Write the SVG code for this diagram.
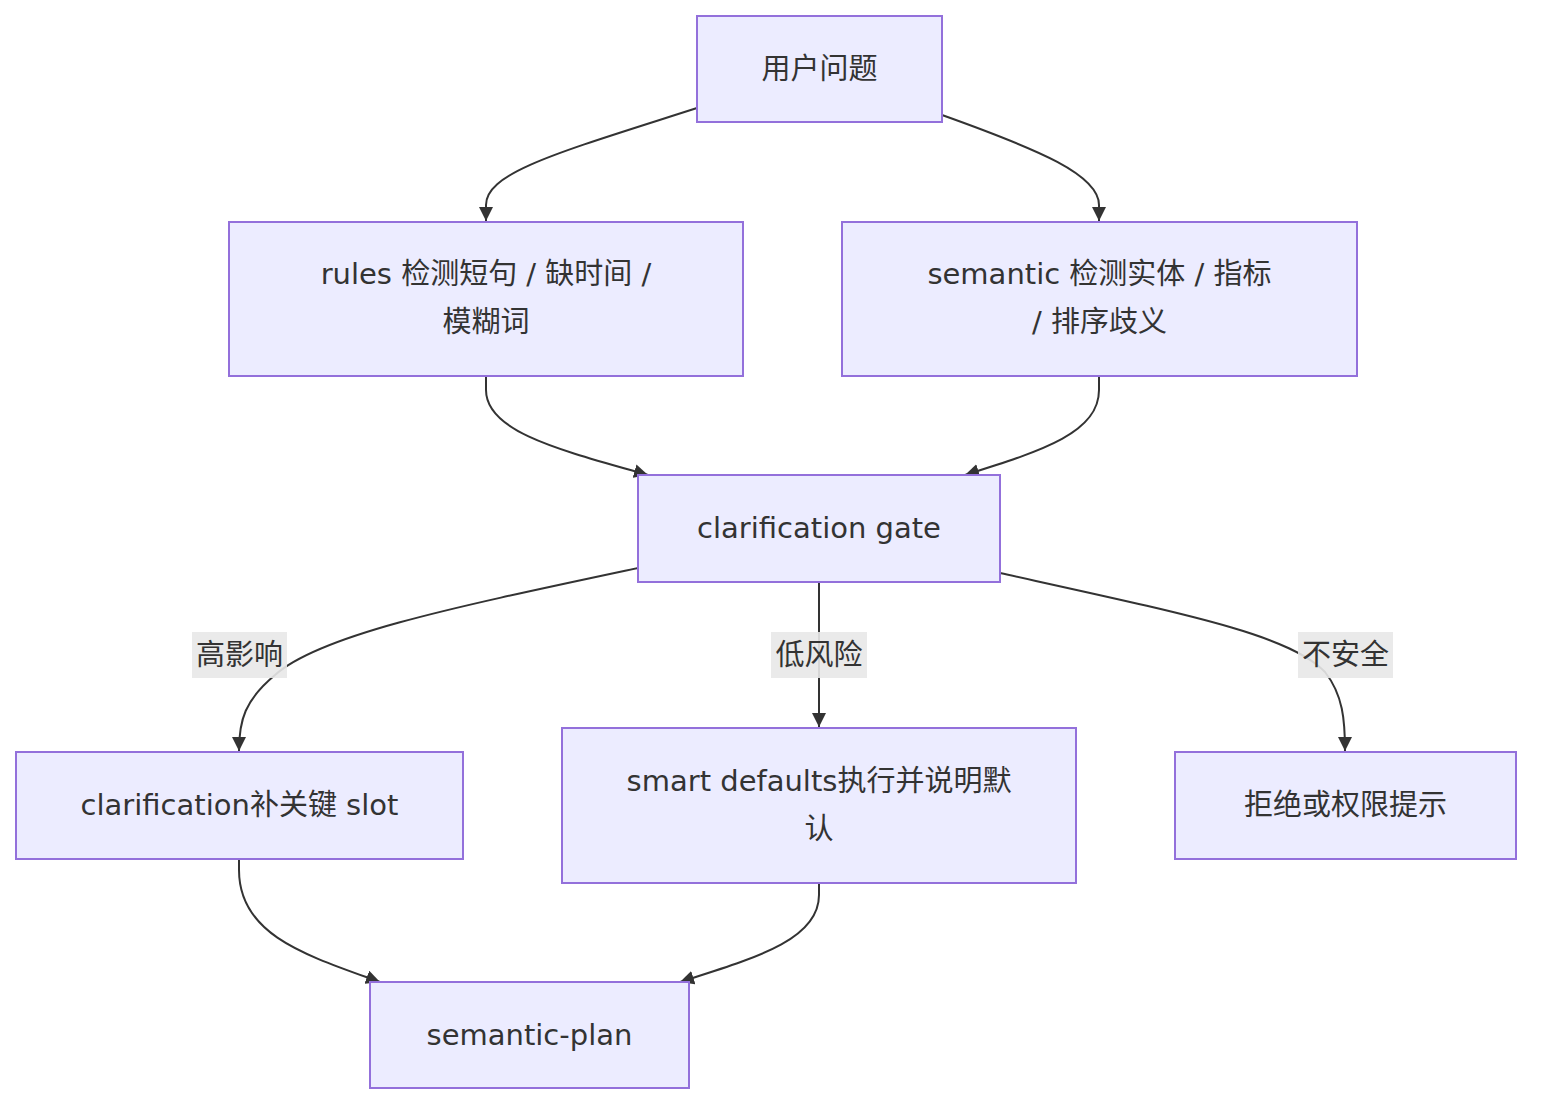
<svg xmlns="http://www.w3.org/2000/svg" width="1548" height="1116" viewBox="0 0 1548 1116">
<style>
.node rect{fill:#ECECFF;stroke:#9370DB;stroke-width:2}
text{font-family:"DejaVu Sans","Noto Sans CJK SC",sans-serif;font-size:29px;fill:#333;text-anchor:middle;dominant-baseline:central}
.edge{fill:none;stroke:#333;stroke-width:2}
.lbl{fill:#e8e8e8;fill-opacity:0.9}
</style>
<defs>
<marker id="ah" viewBox="0 0 14 14" refX="14" refY="7" markerWidth="14" markerHeight="14" markerUnits="userSpaceOnUse" orient="auto">
<path d="M0,0 L14,7 L0,14 z" fill="#333"/>
</marker>
</defs>
<g id="edges">
<path class="edge" marker-end="url(#ah)" d="M697,108 C560,152 486,172 486,205 L486,221"/>
<path class="edge" marker-end="url(#ah)" d="M942,115 C1040,150 1099,175 1099,205 L1099,221"/>
<path class="edge" marker-end="url(#ah)" d="M486,376 L486,390 C486,432 560,450 648,475"/>
<path class="edge" marker-end="url(#ah)" d="M1099,376 L1099,390 C1099,432 1045,450 965,475"/>
<path class="edge" marker-end="url(#ah)" d="M638,568 C450,608 320,635 275,675 C245,700 239,720 239,751"/>
<path class="edge" marker-end="url(#ah)" d="M819,582 L819,727"/>
<path class="edge" marker-end="url(#ah)" d="M1000,573 C1190,615 1290,635 1325,672 C1343,695 1345,720 1345,751"/>
<path class="edge" marker-end="url(#ah)" d="M239,859 L239,870 C239,935 305,955 380,982"/>
<path class="edge" marker-end="url(#ah)" d="M819,883 L819,895 C819,940 755,958 680,982"/>
<rect class="lbl" x="192" y="632" width="95" height="46"/>
<text x="239.5" y="655">高影响</text>
<rect class="lbl" x="771" y="632" width="96" height="46"/>
<text x="819" y="655">低风险</text>
<rect class="lbl" x="1298" y="632" width="95" height="46"/>
<text x="1345.5" y="655">不安全</text>
</g>
<g id="n1" class="node"><rect x="697" y="16" width="245" height="106"/><text x="819.5" y="69">用户问题</text></g>
<g id="n2" class="node"><rect x="229" y="222" width="514" height="154"/><text x="486" y="274">rules 检测短句 / 缺时间 /</text><text x="486" y="322">模糊词</text></g>
<g id="n3" class="node"><rect x="842" y="222" width="515" height="154"/><text x="1099.5" y="274">semantic 检测实体 / 指标</text><text x="1099.5" y="322">/ 排序歧义</text></g>
<g id="n4" class="node"><rect x="638" y="475" width="362" height="107"/><text x="819" y="528">clarification gate</text></g>
<g id="n5" class="node"><rect x="16" y="752" width="447" height="107"/><text x="239.5" y="805">clarification补关键 slot</text></g>
<g id="n6" class="node"><rect x="562" y="728" width="514" height="155"/><text x="819" y="781">smart defaults执行并说明默</text><text x="819" y="829">认</text></g>
<g id="n7" class="node"><rect x="1175" y="752" width="341" height="107"/><text x="1345.5" y="805">拒绝或权限提示</text></g>
<g id="n8" class="node"><rect x="370" y="982" width="319" height="106"/><text x="529.5" y="1035">semantic-plan</text></g>
</svg>
